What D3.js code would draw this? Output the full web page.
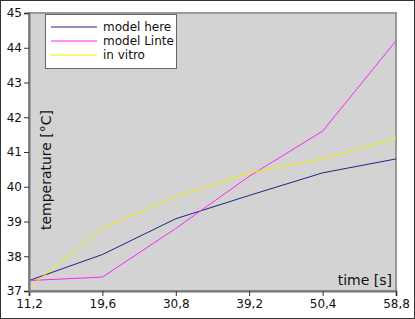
<!DOCTYPE html>
<html>
<head>
<meta charset="utf-8">
<script src="https://cdn.jsdelivr.net/npm/d3@7"></script>
<style>
	body { margin: 0; background: #fff; }
	svg { display: block; font-family: "DejaVu Sans", sans-serif; }
</style>
</head>
<body>
<div id="chart"></div>
<script>
// data
var times = ["11,2", "19,6", "30,8", "39,2", "50,4", "58,8"];
var modelHere = [37.3, 38.05, 39.08, 39.75, 40.4, 40.8];
var modelLinte = [37.3, 37.4, 38.8, 40.3, 41.6, 44.2];
var inVitro = [37.1, 38.8, 39.72, 40.4, 40.8, 41.4];
var yTicks = [37, 38, 39, 40, 41, 42, 43, 44, 45];

var seriesList = [
	{ name: "model here", values: modelHere, color: "#232385" },
	{ name: "model Linte", values: modelLinte, color: "#ff22ff" },
	{ name: "in vitro", values: inVitro, color: "#f2f200" }
];

var width = 415, height = 319;
var plotLeft = 29, plotRight = 396, plotTop = 13, plotBottom = 291;

var svg = d3.select("#chart").append("svg")
	.attr("width", width)
	.attr("height", height);

// outer frame
svg.append("rect")
	.attr("x", 0.5).attr("y", 0.5)
	.attr("width", width - 1).attr("height", height - 1)
	.attr("fill", "#fff")
	.attr("stroke", "#333");

var x = d3.scalePoint()
	.domain(times)
	.range([plotLeft, plotRight]);

var y = d3.scaleLinear()
	.domain([37, 45])
	.range([plotBottom, plotTop]);

// plot area
svg.append("rect")
	.attr("x", plotLeft).attr("y", plotTop)
	.attr("width", plotRight - plotLeft).attr("height", plotBottom - plotTop)
	.attr("fill", "#d3d3d3")
	.attr("stroke", "#999")
	.attr("stroke-width", 2);

var line = d3.line()
	.x(function(d, i) { return x(times[i]); })
	.y(function(d) { return y(d); });

seriesList.forEach(function(s) {
	svg.append("path")
		.datum(s.values)
		.attr("fill", "none")
		.attr("stroke", s.color)
		.attr("stroke-width", 1)
		.attr("d", line);
});

// axes
var xAxis = svg.append("g")
	.attr("transform", "translate(0," + plotBottom + ")")
	.call(d3.axisBottom(x).tickSize(5).tickPadding(3));

var yAxis = svg.append("g")
	.attr("transform", "translate(" + plotLeft + ",0)")
	.call(d3.axisLeft(y).tickValues(yTicks).tickSize(5).tickPadding(2));

[xAxis, yAxis].forEach(function(a) {
	a.select(".domain").attr("stroke", "#777").attr("stroke-width", 2);
	a.selectAll(".tick line").attr("stroke", "#333");
	a.selectAll(".tick text")
		.attr("fill", "#111")
		.style("font-size", "12px")
		.style("font-family", "DejaVu Sans");
});

// axis titles
svg.append("text")
	.attr("x", 392)
	.attr("y", 285)
	.attr("text-anchor", "end")
	.style("font-size", "14px")
	.attr("fill", "#111")
	.text("time [s]");

svg.append("text")
	.attr("transform", "translate(51,170) rotate(-90)")
	.attr("text-anchor", "middle")
	.style("font-size", "14px")
	.attr("fill", "#111")
	.text("temperature [°C]");

// legend
var legend = svg.append("g").attr("transform", "translate(45,14)");
legend.append("rect")
	.attr("x", 0.5).attr("y", 0.5)
	.attr("width", 131).attr("height", 54)
	.attr("fill", "#fff")
	.attr("stroke", "#666");

seriesList.forEach(function(s, i) {
	var row = legend.append("g").attr("transform", "translate(0," + (13 + i * 14) + ")");
	row.append("line")
		.attr("x1", 6).attr("x2", 52)
		.attr("y1", 0).attr("y2", 0)
		.attr("stroke", s.color);
	row.append("text")
		.attr("x", 58)
		.attr("y", 4)
		.style("font-size", "12px")
		.attr("fill", "#111")
		.text(s.name);
});
</script>
</body>
</html>
